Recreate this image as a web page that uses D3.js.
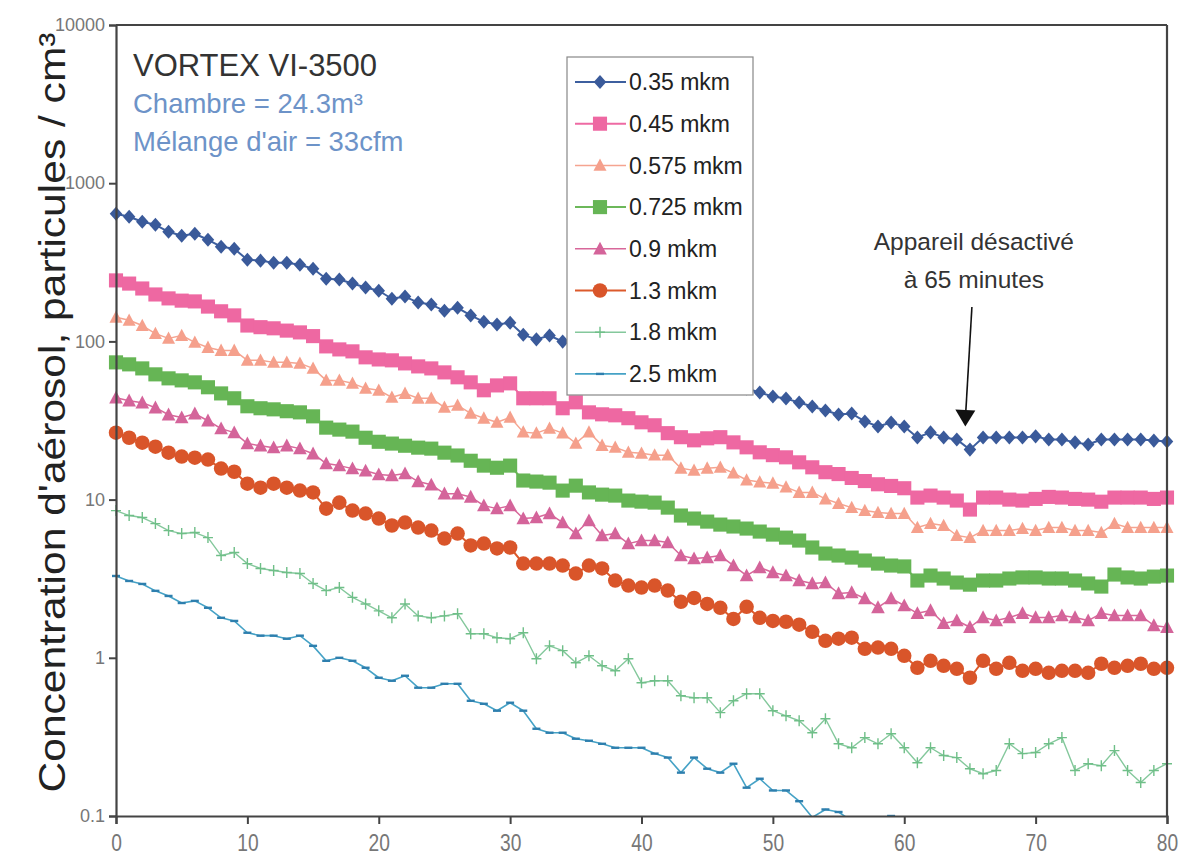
<!DOCTYPE html>
<html><head><meta charset="utf-8">
<script src="https://cdn.jsdelivr.net/npm/d3@7"></script>
<style>
html,body{margin:0;padding:0;background:#fff;}
svg{display:block;font-family:"Liberation Sans",Arial,sans-serif;}
</style></head>
<body>
<svg id="chart" width="1180" height="857"></svg>
<script>
// ---------------- DATA ----------------
const minutes = [0,1,2,3,4,5,6,7,8,9,10,11,12,13,14,15,16,17,18,19,20,21,22,23,24,25,26,27,28,29,30,31,32,33,34,35,36,37,38,39,40,41,42,43,44,45,46,47,48,49,50,51,52,53,54,55,56,57,58,59,60,61,62,63,64,65,66,67,68,69,70,71,72,73,74,75,76,77,78,79,80];
const seriesNames = ["0.35 mkm","0.45 mkm","0.575 mkm","0.725 mkm","0.9 mkm","1.3 mkm","1.8 mkm","2.5 mkm"];
const s035 = [641,614,571,546,493,465,479,439,397,385, 328,324,314,314,305,288,249,246,232,219, 209,186,192,176,171,156,163,146,133,128, 131,110,103,109,99.7,95.5,91.4,86.2,82.5,79, 74.6,71.4,68.3,64.5,61.7,59.1,55.7,53.4,50.4,47.5, 44.8,43.5,41.1,38.8,36.6,34.5,35.0,31.2,29.0,30.7, 29.0,24.7,26.6,24.7,24.0,20.7,24.7,24.7,24.7,24.7, 25.1,24.0,24.0,23.0,22.3,24.0,24.0,24.0,24.0,23.6, 23.3];
const s045 = [243,232,216,198,187,181,179,166,155,146, 126,123,121,117,114,108,93,89,86.5,79.3, 76.9,75.9,72.6,69.5,67.5,63.7,59.3,55.1,49.1,52.7, 54.3,43.7,43.7,43.7,37.8,41.2,35.6,34.6,34.1,32.7, 30.8,29.5,26.3,24.8,23.7,24.4,24.8,23.0,21.4,19.9, 19.1,18.5,17.2,16.0,14.9,14.5,13.7,13.1,12.5,12.2, 11.8,10.3,10.6,10.3,9.86,8.65,10.3,10.3,10.0,9.86, 10.1,10.4,10.3,10.1,10.0,9.7,10.3,10.3,10.3,10.1, 10.3];
const s0575 = [142,136,126,112,104.5,109,98.6,91.6,87.7,87.7, 75.9,75.9,73.7,73.7,72.6,67.5,56.7,56.7,54.3,50.5, 49.1,44.3,46.9,43.7,43.7,38.3,39.4,35.1,32.7,30.8, 33.1,26.7,26.3,28.2,26.3,22.7,26.7,22.0,21.4,19.9, 19.6,19.1,19.1,15.8,15.3,15.8,16.0,14.7,13.3,12.9, 12.7,12.0,11.1,11.1,10.1,9.44,8.9,8.52,8.28,8.16, 8.16,6.66,7.05,6.86,5.93,5.75,6.37,6.37,6.37,6.56, 6.37,6.66,6.66,6.37,6.37,6.19,7.05,6.66,6.66,6.66, 6.66];
const s0725 = [73.7,71.6,67.5,61.9,58.4,56.7,55.1,51.3,46.9,43.7, 38.9,37.8,37.2,36.2,35.6,33.6,28.5,27.7,26.9,24.6, 23.2,22.6,21.9,21.3,21.0,19.8,19.0,17.6,16.4,15.9, 16.4,13.2,13.0,12.8,11.4,12.25,11.1,10.75,10.6,9.86, 9.71,9.57,8.9,7.93,7.59,7.26,6.95,6.76,6.56,6.28, 6.01,5.75,5.51,4.98,4.56,4.43,4.30,4.12,3.94,3.83, 3.78,3.08,3.31,3.17,2.99,2.90,3.08,3.08,3.17,3.22, 3.22,3.17,3.17,3.08,2.95,2.82,3.36,3.22,3.17,3.26, 3.31];
const s09 = [44.0,42.2,41.0,38.1,34.4,33.0,34.9,31.5,28.1,26.5, 22.6,21.9,21.3,21.9,21.0,19.5,16.9,16.4,15.7,15.2, 14.4,14.2,14.6,13.0,12.4,10.9,10.9,10.4,9.16,8.77, 9.16,7.59,7.70,8.16,7.16,6.10,7.37,5.93,6.10,5.27, 5.51,5.51,5.35,4.43,4.24,4.30,4.43,3.83,3.31,3.72, 3.46,3.31,3.08,2.95,2.99,2.55,2.59,2.37,2.08,2.37, 2.14,1.91,1.99,1.65,1.72,1.56,1.80,1.72,1.80,1.91, 1.80,1.80,1.85,1.80,1.72,1.91,1.85,1.85,1.85,1.60, 1.56];
const s13 = [26.5,24.6,22.9,21.6,19.8,18.7,18.4,17.9,15.7,15.0, 12.6,11.9,12.6,11.9,11.4,11.1,8.77,9.57,8.52,8.16, 7.59,6.86,7.16,6.66,6.37,5.67,6.10,5.13,5.27,4.91, 4.98,3.94,3.94,3.94,3.83,3.41,3.83,3.67,3.08,2.86, 2.78,2.86,2.66,2.26,2.39,2.19,2.07,1.76,2.10,1.79, 1.71,1.69,1.62,1.46,1.28,1.32,1.34,1.14,1.16,1.14, 1.03,0.865,0.957,0.890,0.852,0.748,0.957,0.852,0.930,0.828, 0.852,0.804,0.828,0.828,0.804,0.917,0.865,0.890,0.917,0.852, 0.865];
const s18 = [8.52,7.93,7.70,7.05,6.37,6.10,6.19,5.75,4.43,4.63, 3.94,3.67,3.56,3.46,3.41,2.95,2.66,2.78,2.41,2.19, 1.98,1.79,2.19,1.84,1.79,1.84,1.90,1.42,1.42,1.34, 1.32,1.44,0.986,1.19,1.11,0.930,1.03,0.890,0.828,0.986, 0.695,0.716,0.716,0.575,0.559,0.559,0.450,0.535,0.593,0.593, 0.463,0.430,0.400,0.336,0.412,0.286,0.270,0.313,0.286,0.331, 0.270,0.217,0.270,0.241,0.234,0.199,0.185,0.194,0.286,0.248, 0.252,0.286,0.313,0.194,0.214,0.208,0.259,0.194,0.163,0.194, 0.214];
const s25 = [3.29,3.06,2.93,2.65,2.46,2.22,2.29,2.07,1.79,1.71, 1.44,1.38,1.38,1.32,1.38,1.19,0.957,1.0,0.957,0.865, 0.748,0.716,0.770,0.647,0.647,0.685,0.685,0.535,0.512,0.463, 0.520,0.463,0.356,0.336,0.336,0.308,0.299,0.286,0.270,0.270, 0.270,0.248,0.234,0.188,0.234,0.199,0.188,0.214,0.151,0.172, 0.145,0.145,0.124,0.098,0.110,0.106,0.093,0.080,0.087,0.100, 0.092,0.075,null,null,null,null,null,null,null,null, null,null,null,null,null,null,null,null,null,null, null];
const xTicks = [0,10,20,30,40,50,60,70,80];
const yTicks = [0.1,1,10,100,1000,10000];
const yTickLabels = ["0.1","1","10","100","1000","10000"];
const titleLines = ["VORTEX VI-3500","Chambre = 24.3m³","Mélange d'air = 33cfm"];
const yTitle = "Concentration d'aérosol, particules / cm³";
const noteLines = ["Appareil désactivé","à 65 minutes"];
const noteAt = 65;

// ---------------- STYLE ----------------
const allSeries = [s035,s045,s0575,s0725,s09,s13,s18,s25];
const colors  = ["#3d5f9f","#ee6aa3","#f5a490","#6cb85a","#d8679a","#dc5a2c","#84c89c","#45a2c6"];
const mcolors = ["#3a5a9a","#ee68a2","#f5a08c","#66b555","#d4649a","#d9552a","#6fbf88","#2e7fae"];
const lineW   = [2,2,1.5,2,1.5,2,1.4,1.6];
const shapes  = ["diamond","square","triangle","square","triangle","circle","plus","dash"];
const msize   = [1.08,1.12,1.05,1.12,1.1,1.1,1,1];

const L=116,R=1167,T=25,B=816;
const x = d3.scaleLinear().domain([0,80]).range([L,R]);
const y = d3.scaleLog().domain([0.1,10000]).range([B,T]);

const svg = d3.select("#chart");

function markerPath(shape, k){
  k = k||1;
  switch(shape){
    case "diamond": return `M0,${-6.5*k}L${5.8*k},0L0,${6.5*k}L${-5.8*k},0Z`;
    case "square": return `M${-6.3*k},${-6.3*k}H${6.3*k}V${6.3*k}H${-6.3*k}Z`;
    case "triangle": return `M0,${-6.5*k}L${6.2*k},${5.2*k}L${-6.2*k},${5.2*k}Z`;
    case "circle": return d3.symbol(d3.symbolCircle, Math.PI*6.6*6.6*k*k)();
    case "plus": return `M${-5*k},0H${5*k}M0,${-5.5*k}V${5.5*k}`;
    case "dash": return `M${-4*k},0H${4*k}`;
  }
}
function styleMarker(sel, i){
  const sh = shapes[i];
  if (sh==="plus"){ sel.attr("fill","none").attr("stroke",mcolors[i]).attr("stroke-width",1.4); }
  else if (sh==="dash"){ sel.attr("fill","none").attr("stroke",mcolors[i]).attr("stroke-width",2.4); }
  else { sel.attr("fill",mcolors[i]).attr("stroke","none"); }
}

// clip
svg.append("defs").append("clipPath").attr("id","plotclip")
  .append("rect").attr("x",L-9).attr("y",T-8).attr("width",R-L+18).attr("height",B-T+8);

// series
const gS = svg.append("g").attr("clip-path","url(#plotclip)");
const line = d3.line().defined(d=>d.v!=null).x(d=>x(d.t)).y(d=>y(d.v));
allSeries.slice().reverse().forEach((arr, ri)=>{
  const i = allSeries.length-1-ri;
  const pts = minutes.map((t,j)=>({t, v:arr[j]}));
  gS.append("path").datum(pts).attr("d",line)
    .attr("fill","none").attr("stroke",colors[i]).attr("stroke-width",lineW[i]).attr("stroke-linejoin","round");
  gS.append("g").selectAll("path").data(pts.filter(d=>d.v!=null)).join("path")
    .attr("transform",d=>`translate(${x(d.t)},${y(d.v)})`)
    .attr("d",markerPath(shapes[i],msize[i]))
    .call(s=>styleMarker(s,i));
});

// axes
const ax = svg.append("g").attr("transform",`translate(0,${B})`)
  .call(d3.axisBottom(x).tickValues(xTicks).tickSize(8).tickPadding(4).tickFormat(d3.format("d")));
const ay = svg.append("g").attr("transform",`translate(${L},0)`)
  .call(d3.axisLeft(y).tickValues(yTicks).tickSize(7).tickPadding(4).tickFormat((d,i)=>yTickLabels[i]));
[ax,ay].forEach(a=>{
  a.select(".domain").attr("stroke","#444").attr("stroke-width",2.2);
  a.selectAll(".tick line").attr("stroke","#444").attr("stroke-width",2);
});
ay.selectAll(".tick text").attr("font-size",18).attr("fill","#777").attr("font-family","'Liberation Sans',Arial,sans-serif");
ax.selectAll(".tick text").attr("font-size",24).attr("fill","#777")
  .attr("font-family","'Liberation Sans Narrow','Liberation Sans',sans-serif")
  .attr("transform","scale(0.8,1)").attr("x",0).attr("dy","0.95em");

// frame top & right
svg.append("line").attr("x1",L).attr("x2",R).attr("y1",T).attr("y2",T).attr("stroke","#444").attr("stroke-width",2.2);
svg.append("line").attr("x1",R).attr("x2",R).attr("y1",T).attr("y2",B).attr("stroke","#444").attr("stroke-width",2.2);

// y title
svg.append("text").attr("transform",`translate(65,${(T+B)/2-8}) rotate(-90)`)
  .attr("text-anchor","middle").attr("font-size",37).attr("fill","#222")
  .attr("textLength",760).attr("lengthAdjust","spacingAndGlyphs")
  .text(yTitle);

// title block
svg.append("text").attr("x",133).attr("y",76).attr("font-size",31).attr("fill","#333").text(titleLines[0]);
svg.append("text").attr("x",133).attr("y",113).attr("font-size",27.5).attr("fill","#6d93c8").text(titleLines[1]);
svg.append("text").attr("x",133).attr("y",151).attr("font-size",27.5).attr("fill","#6d93c8").text(titleLines[2]);

// legend
const lg = svg.append("g");
lg.append("rect").attr("x",567).attr("y",57).attr("width",186).attr("height",338)
  .attr("fill","#fff").attr("stroke","#888").attr("stroke-width",1.2);
seriesNames.forEach((nm,i)=>{
  const cy = 82 + i*41.7;
  lg.append("line").attr("x1",575).attr("x2",626).attr("y1",cy).attr("y2",cy)
    .attr("stroke",colors[i]).attr("stroke-width",lineW[i]);
  lg.append("path").attr("transform",`translate(600,${cy})`).attr("d",markerPath(shapes[i],msize[i]))
    .call(s=>styleMarker(s,i));
  lg.append("text").attr("x",629).attr("y",cy).attr("dy","0.36em").attr("font-size",23).attr("fill","#222").text(nm);
});

// annotation
const tipX = x(noteAt-0.35), tipY = y(29);
const topX = x(noteAt+0.15), topY = y(165);
svg.append("line").attr("x1",topX).attr("y1",topY).attr("x2",tipX+0.3).attr("y2",tipY-12)
  .attr("stroke","#111").attr("stroke-width",1.6);
svg.append("path").attr("d",`M${tipX},${tipY}L${tipX-10},${tipY-17}L${tipX+10},${tipY-16}Z`).attr("fill","#111");
noteLines.forEach((s,i)=>{
  svg.append("text").attr("x",x(noteAt+0.3)).attr("y",250+i*38).attr("text-anchor","middle")
    .attr("font-size",24.5).attr("fill","#333").text(s);
});
</script>
</body></html>
